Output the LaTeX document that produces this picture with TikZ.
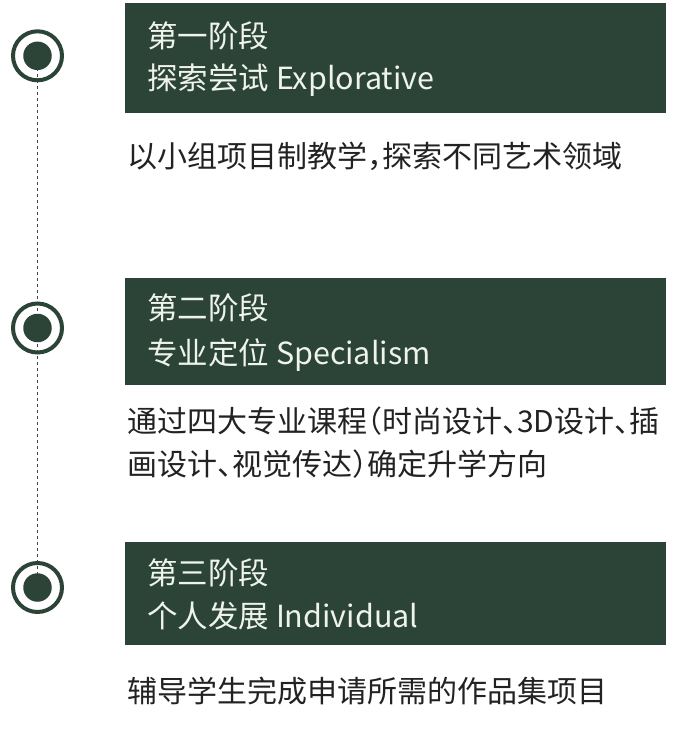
\documentclass[tikz,border=0pt]{standalone}
\usepackage{fontspec}
\setmainfont{Noto Sans CJK SC}[RawFeature=+halt]
\definecolor{boxgreen}{HTML}{2C4337}
\definecolor{boxtext}{HTML}{EEF3EC}
\definecolor{bodytext}{HTML}{222222}
\definecolor{dotline}{HTML}{444444}
\tikzset{
  stagebox/.style={rectangle, fill=boxgreen, draw=none, anchor=north west, inner sep=0pt},
  boxlabel/.style={anchor=base west, inner sep=0pt, text=boxtext, font=\fontsize{30.5}{30.5}\selectfont},
  bodylabel/.style={anchor=base west, inner sep=0pt, text=bodytext, font=\fontsize{30}{30}\selectfont},
  ringmark/.style={circle, draw=boxgreen, line width=4pt, minimum size=49pt, inner sep=0pt},
  discmark/.style={circle, fill=boxgreen, minimum size=28.5pt, inner sep=0pt},
  timeline/.style={draw=dotline, line width=1.7pt, dash pattern=on 3.5pt off 2.5pt}
}
\begin{document}
\begin{tikzpicture}[x=1pt,y=-1pt]
\useasboundingbox (0,0) rectangle (676,734);
\coordinate (p1) at (37.5,55.8);
\coordinate (p2) at (37.5,328);
\coordinate (p3) at (37.5,587.5);
\draw[timeline] (p1) -- (p3);
\node[ringmark] (r1) at (p1) {};
\node[discmark] (d1) at (p1) {};
\node[ringmark] (r2) at (p2) {};
\node[discmark] (d2) at (p2) {};
\node[ringmark] (r3) at (p3) {};
\node[discmark] (d3) at (p3) {};

\node[stagebox, minimum width=541pt, minimum height=110pt] (b1) at (125,3) {};
\node[boxlabel] (t1a) at (147,47.5) {第一阶段};
\node[boxlabel] (t1b) at (147,89.5) {探索尝试 Explorative};
\node[bodylabel] (s1) at (127,167.5) {以小组项目制教学，探索不同艺术领域};

\node[stagebox, minimum width=541pt, minimum height=107pt] (b2) at (125,278) {};
\node[boxlabel] (t2a) at (147,319.5) {第二阶段};
\node[boxlabel] (t2b) at (147,364.5) {专业定位 Specialism};
\node[bodylabel] (s2a) at (127,432.5) {通过四大专业课程（时尚设计、3D设计、插};
\node[bodylabel] (s2b) at (127,475.5) {画设计、视觉传达）确定升学方向};

\node[stagebox, minimum width=541pt, minimum height=103pt] (b3) at (125,542) {};
\node[boxlabel] (t3a) at (147,584.5) {第三阶段};
\node[boxlabel] (t3b) at (147,627.5) {个人发展 Individual};
\node[bodylabel] (s3) at (127,702.5) {辅导学生完成申请所需的作品集项目};
\end{tikzpicture}
\end{document}
